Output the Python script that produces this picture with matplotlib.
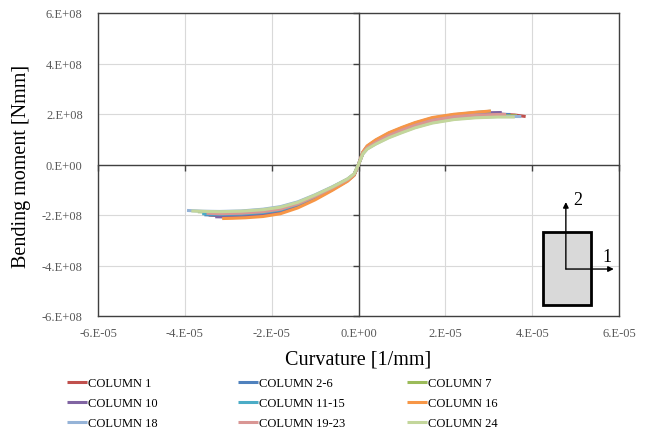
import matplotlib
matplotlib.use("Agg")
import matplotlib.pyplot as plt
from matplotlib.patches import Rectangle
from matplotlib.ticker import MultipleLocator, FuncFormatter

plt.rcParams['font.family'] = ['Liberation Serif', 'DejaVu Serif']

# curvature in 1e-5 1/mm, moment in 1e8 Nmm
labels = ["COLUMN 1", "COLUMN 2-6", "COLUMN 7", "COLUMN 10", "COLUMN 11-15",
          "COLUMN 16", "COLUMN 18", "COLUMN 19-23", "COLUMN 24"]
colors = ["#C0504D", "#4F81BD", "#9BBB59", "#8064A2", "#4BACC6",
          "#F79646", "#95B3D7", "#D99694", "#C3D69B"]

curv_c1 = [-3.45, -3.2, -2.7, -2.2, -1.8, -1.4, -1.0, -0.6, -0.25, -0.1, 0, 0.1, 0.2, 0.4, 0.7, 1.0, 1.3, 1.7, 2.2, 2.7, 3.2, 3.6, 3.85]
mom_c1 = [-2.00, -2.03, -2.02, -1.96, -1.86, -1.64, -1.32, -0.96, -0.62, -0.40, 0, 0.46, 0.68, 0.91, 1.18, 1.39, 1.58, 1.78, 1.92, 1.99, 2.00, 1.96, 1.90]

curv_c2 = [-3.55, -3.2, -2.7, -2.2, -1.8, -1.4, -1.0, -0.6, -0.25, -0.1, 0, 0.1, 0.2, 0.4, 0.7, 1.0, 1.3, 1.7, 2.2, 2.7, 3.2, 3.5]
mom_c2 = [-1.99, -2.01, -1.99, -1.93, -1.83, -1.61, -1.30, -0.94, -0.61, -0.40, 0, 0.45, 0.67, 0.89, 1.16, 1.37, 1.56, 1.76, 1.90, 1.97, 1.99, 1.98]

curv_c7 = [-3.7, -3.2, -2.7, -2.2, -1.8, -1.4, -1.0, -0.6, -0.25, -0.1, 0, 0.1, 0.2, 0.4, 0.7, 1.0, 1.3, 1.7, 2.2, 2.7, 3.2, 3.65]
mom_c7 = [-1.87, -1.90, -1.88, -1.82, -1.72, -1.52, -1.23, -0.90, -0.58, -0.38, 0, 0.43, 0.63, 0.84, 1.10, 1.31, 1.50, 1.69, 1.83, 1.90, 1.93, 1.93]

curv_c10 = [-3.3, -3.0, -2.7, -2.2, -1.8, -1.4, -1.0, -0.6, -0.25, -0.1, 0, 0.1, 0.2, 0.4, 0.7, 1.0, 1.3, 1.7, 2.2, 2.7, 3.0, 3.3]
mom_c10 = [-2.07, -2.08, -2.06, -2.01, -1.90, -1.68, -1.36, -0.99, -0.64, -0.42, 0, 0.47, 0.70, 0.94, 1.21, 1.42, 1.61, 1.81, 1.95, 2.03, 2.05, 2.06]

curv_c11 = [-3.6, -3.2, -2.7, -2.2, -1.8, -1.4, -1.0, -0.6, -0.25, -0.1, 0, 0.1, 0.2, 0.4, 0.7, 1.0, 1.3, 1.7, 2.2, 2.7, 3.05]
mom_c11 = [-1.95, -1.97, -1.96, -1.90, -1.80, -1.58, -1.28, -0.93, -0.60, -0.39, 0, 0.48, 0.72, 0.96, 1.24, 1.45, 1.64, 1.84, 1.97, 2.06, 2.11]

curv_c16 = [-3.14, -2.9, -2.6, -2.2, -1.8, -1.4, -1.0, -0.6, -0.25, -0.1, 0, 0.1, 0.2, 0.4, 0.7, 1.0, 1.3, 1.7, 2.2, 2.7, 3.05]
mom_c16 = [-2.14, -2.13, -2.11, -2.06, -1.95, -1.72, -1.40, -1.02, -0.66, -0.43, 0, 0.50, 0.74, 0.98, 1.26, 1.47, 1.66, 1.86, 1.99, 2.07, 2.12]

curv_c18 = [-3.95, -3.6, -3.2, -2.7, -2.2, -1.8, -1.4, -1.0, -0.6, -0.25, -0.1, 0, 0.1, 0.2, 0.4, 0.7, 1.0, 1.3, 1.7, 2.2, 2.7, 3.2, 3.75]
mom_c18 = [-1.82, -1.85, -1.86, -1.84, -1.77, -1.67, -1.48, -1.20, -0.88, -0.57, -0.37, 0, 0.42, 0.62, 0.82, 1.08, 1.28, 1.47, 1.66, 1.80, 1.87, 1.90, 1.90]

curv_c19 = [-3.5, -3.2, -2.7, -2.2, -1.8, -1.4, -1.0, -0.6, -0.25, -0.1, 0, 0.1, 0.2, 0.4, 0.7, 1.0, 1.3, 1.7, 2.2, 2.7, 3.2, 3.4]
mom_c19 = [-1.93, -1.95, -1.93, -1.87, -1.77, -1.56, -1.26, -0.92, -0.60, -0.39, 0, 0.45, 0.66, 0.88, 1.15, 1.36, 1.55, 1.75, 1.89, 1.96, 1.98, 1.98]

curv_c24 = [-3.85, -3.5, -3.2, -2.7, -2.2, -1.8, -1.4, -1.0, -0.6, -0.25, -0.1, 0, 0.1, 0.2, 0.4, 0.7, 1.0, 1.3, 1.7, 2.2, 2.7, 3.2, 3.6]
mom_c24 = [-1.84, -1.86, -1.87, -1.85, -1.79, -1.69, -1.50, -1.21, -0.89, -0.57, -0.37, 0, 0.42, 0.61, 0.81, 1.06, 1.26, 1.45, 1.64, 1.78, 1.85, 1.88, 1.88]

curvs = [curv_c1, curv_c2, curv_c7, curv_c10, curv_c11, curv_c16, curv_c18, curv_c19, curv_c24]
moms = [mom_c1, mom_c2, mom_c7, mom_c10, mom_c11, mom_c16, mom_c18, mom_c19, mom_c24]

fig = plt.figure(figsize=(6.52, 4.35), dpi=100)
rect = [98 / 652, 1 - 317 / 435, 521 / 652, 303 / 435]

# back axes: frame, grid and edge tick labels
ax = fig.add_axes(rect)
ax.set_xlim(-6e-5, 6e-5)
ax.set_ylim(-6e8, 6e8)
ax.xaxis.set_major_locator(MultipleLocator(2e-5))
ax.yaxis.set_major_locator(MultipleLocator(2e8))
fmt = FuncFormatter(lambda v, p: '%#.0E' % v)
ax.xaxis.set_major_formatter(fmt)
ax.yaxis.set_major_formatter(fmt)
ax.tick_params(length=0, labelsize=9, labelcolor='#595959')
ax.tick_params(axis='y', pad=11)
ax.tick_params(axis='x', pad=8)
ax.grid(True, color='#d9d9d9', lw=0.8)
for s in ax.spines.values():
    s.set_color('#404040')
    s.set_linewidth(1.0)

# front axes: axes crossing at the origin, and the curves
az = fig.add_axes(rect, sharex=ax, sharey=ax)
az.patch.set_visible(False)
az.spines['left'].set_position(('data', 0))
az.spines['bottom'].set_position(('data', 0))
az.spines['top'].set_visible(False)
az.spines['right'].set_visible(False)
for s in ('left', 'bottom'):
    az.spines[s].set_color('#404040')
    az.spines[s].set_linewidth(1.0)
az.tick_params(direction='out', length=4, width=1, color='#404040',
               labelbottom=False, labelleft=False)

lines = []
for cx, my, lab, col in zip(curvs, moms, labels, colors):
    ln, = az.plot([v * 1e-5 for v in cx], [v * 1e8 for v in my], color=col, lw=2.2,
                  label=lab, solid_capstyle='butt', zorder=3)
    lines.append(ln)

fig.text(0.55, 1 - 360 / 435, "Curvature [1/mm]", ha='center', va='center', fontsize=14.5)
fig.text(22 / 652, 1 - 166 / 435, "Bending moment [Nmm]", ha='center', va='center',
         rotation=90, fontsize=14.5)

# cross-section sketch with local axes
az.add_patch(Rectangle((0.854, 0.036), 0.092, 0.241, transform=az.transAxes,
                       facecolor='#d9d9d9', edgecolor='black', lw=2, zorder=5))
arr = dict(arrowstyle='-|>', color='black', lw=1, mutation_scale=8, shrinkA=0, shrinkB=0)
az.annotate("", xy=(0.898, 0.376), xytext=(0.898, 0.155), xycoords='axes fraction',
            arrowprops=arr, zorder=6)
az.annotate("", xy=(0.990, 0.155), xytext=(0.898, 0.155), xycoords='axes fraction',
            arrowprops=arr, zorder=6)
az.text(0.921, 0.383, "2", transform=az.transAxes, ha='center', va='center', fontsize=13)
az.text(0.977, 0.195, "1", transform=az.transAxes, ha='center', va='center', fontsize=13)

# legend in three separate columns
col_x = [67, 238, 407]
for i, x0 in enumerate(col_x):
    idx = [i, i + 3, i + 6]
    fig.legend([lines[k] for k in idx], [labels[k] for k in idx], loc='upper left',
               bbox_to_anchor=(x0 / 652, 1 - 378 / 435), frameon=False, fontsize=9,
               handlelength=1.6, handletextpad=0.05, labelspacing=0.65,
               borderpad=0, borderaxespad=0)

fig.savefig("out.png", dpi=100)
